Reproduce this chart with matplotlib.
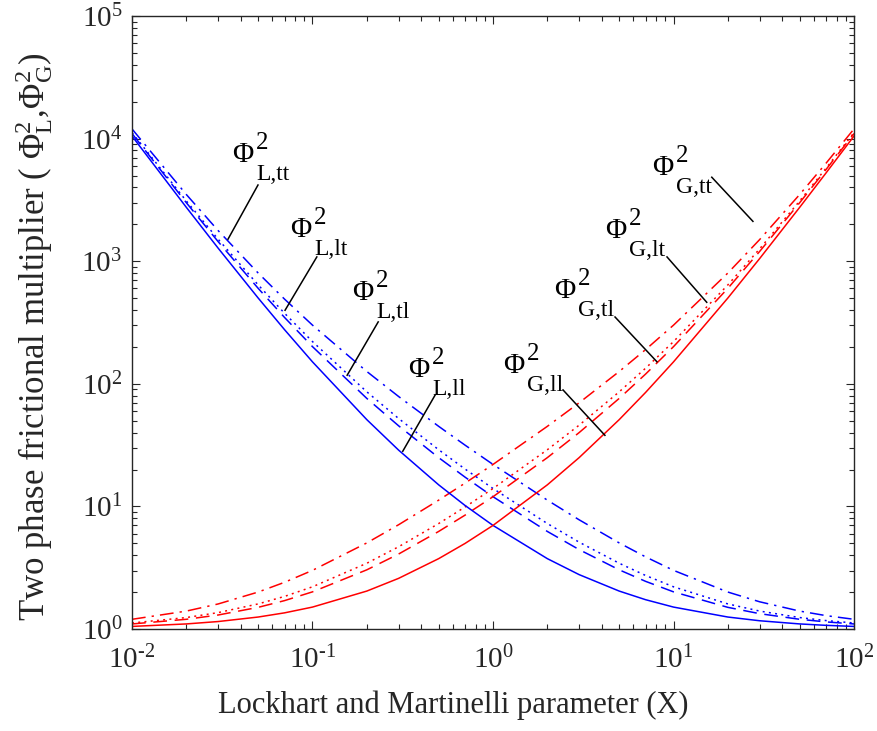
import math
import matplotlib
matplotlib.use("Agg")
import matplotlib.pyplot as plt
from matplotlib.ticker import FuncFormatter
from matplotlib.transforms import offset_copy

plt.rcParams['font.family'] = ['Liberation Serif', 'DejaVu Serif']
plt.rcParams['mathtext.fontset'] = 'custom'
plt.rcParams['mathtext.rm'] = 'Liberation Serif'
plt.rcParams['mathtext.it'] = 'Liberation Serif:italic'
plt.rcParams['mathtext.bf'] = 'Liberation Serif:bold'

# Lockhart-Martinelli parameter
X = [0.01, 0.02, 0.03, 0.05, 0.07, 0.1, 0.2, 0.3, 0.5, 0.7,
     1, 2, 3, 5, 7, 10, 20, 30, 50, 70, 100]

# liquid-phase multipliers
phiL_tt = [12001, 3501, 1778.8, 801, 490.8, 301, 126, 78.78, 45, 31.61,
           22, 11.25, 7.778, 5.04, 3.878, 3.01, 2.0025, 1.668, 1.4004, 1.286, 1.2001]
phiL_lt = [11201, 3101, 1512.1, 641, 376.5, 221, 86, 52.11, 29, 20.18,
           14, 7.25, 5.111, 3.44, 2.735, 2.21, 1.6025, 1.401, 1.2404, 1.172, 1.1201]
phiL_tl = [11001, 3001, 1445.4, 601, 347.9, 201, 76, 45.44, 25, 17.33,
           12, 6.25, 4.444, 3.04, 2.449, 2.01, 1.5025, 1.3344, 1.2004, 1.143, 1.1001]
phiL_ll = [10501, 2751, 1278.8, 501, 276.5, 151, 51, 28.78, 15, 10.18,
           7, 3.75, 2.778, 2.04, 1.735, 1.51, 1.2525, 1.168, 1.1004, 1.0716, 1.0501]

# gas-phase multipliers
phiG_tt = [1.2001, 1.4004, 1.6009, 2.0025, 2.405, 3.01, 5.04, 7.09, 11.25, 15.49,
           22, 45, 70, 126, 190, 301, 801, 1501, 3501, 6301, 12001]
phiG_lt = [1.1201, 1.2404, 1.3609, 1.6025, 1.8449, 2.21, 3.44, 4.69, 7.25, 9.89,
           14, 29, 46, 86, 134, 221, 641, 1261, 3101, 5741, 11201]
phiG_tl = [1.1001, 1.2004, 1.3009, 1.5025, 1.7049, 2.01, 3.04, 4.09, 6.25, 8.49,
           12, 25, 40, 76, 120, 201, 601, 1201, 3001, 5601, 11001]
phiG_ll = [1.0501, 1.1004, 1.1509, 1.2525, 1.3549, 1.51, 2.04, 2.59, 3.75, 4.99,
           7, 15, 25, 51, 85, 151, 501, 1051, 2751, 5251, 10501]

regimes = ['tt', 'lt', 'tl', 'll']

styles = {
    'tt': dict(dashes=(9, 4, 1.5, 4)),
    'lt': dict(dashes=(1.3, 2.8)),
    'tl': dict(dashes=(9, 5)),
    'll': dict(linestyle='-'),
}

fig = plt.figure(figsize=(8.77, 7.31), dpi=100)
ax = fig.add_axes([0.1505, 0.1395, 0.8233, 0.8386])

liquid = dict(zip(regimes, [phiL_tt, phiL_lt, phiL_tl, phiL_ll]))
gas = dict(zip(regimes, [phiG_tt, phiG_lt, phiG_tl, phiG_ll]))
for r in regimes:
    ax.plot(X, liquid[r], color='#0000ff', lw=1.1, **styles[r])
    ax.plot(X, gas[r], color='#ff0000', lw=1.1, **styles[r])

ax.set_xscale('log')
ax.set_yscale('log')
ax.set_xlim(1e-2, 1e2)
ax.set_ylim(1e0, 1e5)

pow10 = FuncFormatter(lambda v, pos: r'$\mathregular{10^{\text{%d}}}$' % round(math.log10(v)))
ax.xaxis.set_major_formatter(pow10)
ax.yaxis.set_major_formatter(pow10)

# leader lines (axes fraction) and label baseline positions
callouts = [
    ('L,tt', (0.1745, 0.7243), (0.133, 0.636), (0.1385, 0.7618)),
    ('L,lt', (0.256, 0.607), (0.212, 0.520), (0.2188, 0.6395)),
    ('L,tl', (0.341, 0.501), (0.298, 0.414), (0.3047, 0.5367)),
    ('L,ll', (0.420, 0.382), (0.375, 0.290), (0.3823, 0.4111)),
    ('G,tt', (0.803, 0.737), (0.860, 0.665), (0.7202, 0.7406)),
    ('G,lt', (0.741, 0.607), (0.796, 0.533), (0.655, 0.6378)),
    ('G,tl', (0.669, 0.509), (0.727, 0.436), (0.5845, 0.540)),
    ('G,ll', (0.597, 0.390), (0.655, 0.316), (0.5139, 0.4176)),
]
sup_tr = offset_copy(ax.transAxes, fig=fig, x=24, y=13, units='dots')
sub_tr = offset_copy(ax.transAxes, fig=fig, x=24, y=-18, units='dots')
for sub, p0, p1, pt in callouts:
    ax.plot([p0[0], p1[0]], [p0[1], p1[1]], color='k', lw=1.1,
            transform=ax.transAxes)
    ax.text(pt[0], pt[1], '\u03a6', transform=ax.transAxes,
            ha='left', va='baseline', fontsize=21)
    ax.text(pt[0], pt[1], '2', transform=sup_tr,
            ha='left', va='baseline', fontsize=18)
    ax.text(pt[0], pt[1], sub, transform=sub_tr,
            ha='left', va='baseline', fontsize=17)

ax.set_xlabel('Lockhart and Martinelli parameter (X)', fontsize=22,
              color='#262626')
ax.set_ylabel(r'Two phase frictional multiplier ( $\Phi^{2}_{\mathrm{L}}$,$\Phi^{2}_{\mathrm{G}}$)',
              fontsize=25, color='#262626')
ax.xaxis.set_label_coords(0.4446, -0.0995)
ax.yaxis.set_label_coords(-0.1066, 0.476)

for side in ax.spines.values():
    side.set_color('#262626')
    side.set_linewidth(1.0)
ax.tick_params(which='both', direction='in', top=True, right=True,
               colors='#262626', labelsize=21)
ax.tick_params(which='major', length=6, width=0.8)
ax.tick_params(axis='x', which='major', pad=12)
ax.tick_params(axis='y', which='major', pad=7)
ax.tick_params(which='minor', length=3.5, width=0.8)

fig.savefig('out.png', dpi=100)
